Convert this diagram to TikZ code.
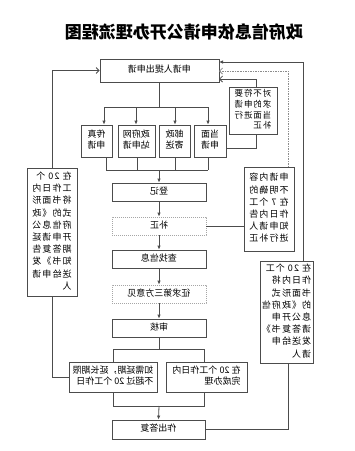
\documentclass[tikz,border=0pt]{standalone}
\usepackage{fontspec}
\setmainfont{Noto Sans CJK SC}
\usepackage{graphicx}
\usetikzlibrary{arrows.meta}
\newcommand{\M}[2][c]{\reflectbox{\begin{tabular}{@{}#1@{}}#2\end{tabular}}}
\tikzset{
 box/.style={draw=black!70, line width=0.8pt, fill=white, inner sep=0pt, font=\fontsize{9}{11}\selectfont},
 dbox/.style={box, draw=black!35, dash pattern=on 1.2pt off 0.8pt},
 tall/.style={box, font=\fontsize{9}{12.2}\selectfont\addfontfeature{LetterSpace=12}},
 ln/.style={draw=black!70, line width=0.8pt},
 arr/.style={ln, -{Latex[length=4pt,width=3.5pt]}},
 oarr/.style={ln, -{Straight Barb[length=3pt,width=6pt]}},
}
\begin{document}
\begin{tikzpicture}[x=1pt,y=-1pt]
\useasboundingbox (0,0) rectangle (355,451);
\fill[white] (0,0) rectangle (355,451);

\node[font=\fontsize{17}{17}\selectfont\bfseries] (title) at (184,34) {\M{政府信息依申请公开办理流程图}};

\node[box, minimum width=119pt, minimum height=23pt] (top) at (159.5,70.5) {\M{申请人提出申请}};

\node[box, minimum width=31pt, minimum height=32pt] (ch1) at (96.5,141) {\M{传真\\申请}};
\node[box, minimum width=37pt, minimum height=32pt] (ch2) at (136.5,141) {\M{政府网\\站申请}};
\node[box, minimum width=31pt, minimum height=32pt] (ch3) at (174.5,141) {\M{邮政\\寄送}};
\node[box, minimum width=32pt, minimum height=32pt] (ch4) at (210,141) {\M{当面\\申请}};

\node[box, minimum width=94pt, minimum height=18pt] (dengji) at (159,192) {\M{登记}};
\node[dbox, minimum width=94pt, minimum height=18pt] (buzheng) at (159,226) {\M{补正}};
\node[box, minimum width=94pt, minimum height=18pt] (chazhao) at (159,259) {\M{查找信息}};
\node[dbox, minimum width=94pt, minimum height=18pt] (zhengqiu) at (159,294) {\M{征求第三方意见}};
\node[box, minimum width=94pt, minimum height=18pt] (shenhe) at (159,328) {\M{审核}};

\node[box, minimum width=88pt, minimum height=30pt] (yanqi) at (113,377) {\M[l]{如需延期，延长期限\\不超过 20 个工作日}};
\node[box, minimum width=81pt, minimum height=30pt] (wancheng) at (206.5,377) {\M[l]{在 20 个工作日内\\完成办理}};
\node[box, minimum width=93pt, minimum height=19pt] (dafu) at (158.5,429.5) {\M{作出答复}};

\node[tall, minimum width=50pt, minimum height=128pt] (leftTall) at (52,232) {\M[l]{在 20 个\\工作日内\\将书面形\\式的《政\\府信息公\\开申请延\\期答复告\\知书》发\\送给申请\\人}};
\node[tall, font=\fontsize{8.5}{10.8}\selectfont\addfontfeature{LetterSpace=10}, minimum width=48pt, minimum height=47pt] (req) at (253,110.5) {\M[l]{对不符要\\求的申请\\当面进行\\补正}};
\node[tall, minimum width=50pt, minimum height=84pt] (unclear) at (269,209) {\M[l]{申请内容\\不明确的\\在 7 个工\\作日内告\\知申请人\\进行补正}};
\node[tall, minimum width=53pt, minimum height=102pt] (rightTall) at (286.5,312) {\M[l]{在 20 个工\\作日内将\\书面形式\\的《政府信\\息公开申\\请答复书》\\发送给申\\请人}};

% top split
\coordinate (s1) at (159.5,107);
\coordinate (b1) at (104,107);
\coordinate (b2) at (136,107);
\coordinate (b3) at (175,107);
\coordinate (b4) at (208,107);
\draw[ln] (top.south) -- (s1);
\draw[ln] (b1) -- (b4);
\draw[arr] (b1) -- (b1 |- ch1.north);
\draw[arr] (b2) -- (b2 |- ch2.north);
\draw[arr] (b3) -- (b3 |- ch3.north);
\draw[arr] (b4) -- (b4 |- ch4.north);

% bottom merge
\coordinate (c1) at (106,170);
\coordinate (c2) at (137,170);
\coordinate (c3) at (175,170);
\coordinate (c4) at (208,170);
\coordinate (s2) at (159,170);
\draw[ln] (c1 |- ch1.south) -- (c1);
\draw[ln] (c2 |- ch2.south) -- (c2);
\draw[ln] (c3 |- ch3.south) -- (c3);
\draw[ln] (c4 |- ch4.south) -- (c4);
\draw[ln] (c1) -- (c4);
\draw[arr] (s2) -- (dengji.north);

% main chain
\draw[arr] (dengji) -- (buzheng);
\draw[arr] (buzheng) -- (chazhao);
\draw[arr] (chazhao) -- (zhengqiu);
\draw[arr] (zhengqiu) -- (shenhe);

% after review
\coordinate (s3) at (159,349);
\coordinate (d1) at (113,349);
\coordinate (d2) at (204,349);
\draw[ln] (shenhe.south) -- (s3);
\draw[ln] (d1) -- (d2);
\draw[ln] (d1) -- (d1 |- yanqi.north);
\draw[ln] (d2) -- (d2 |- wancheng.north);
\coordinate (e1) at (113,406);
\coordinate (e2) at (204,406);
\coordinate (s4) at (159,406);
\draw[ln] (e1 |- yanqi.south) -- (e1) -- (e2) -- (e2 |- wancheng.south);
\draw[arr] (s4) -- (dafu.north);

% left loop
\draw[ln] (yanqi.west) -| (leftTall.south);
\draw[oarr] (leftTall.north) |- (top.west);

% right loops
\coordinate (t1) at (219,62);
\coordinate (t2) at (219,71);
\coordinate (t3) at (219,79);
\coordinate (r1) at (256,148);
\draw[ln] (r1 -| ch4.east) -- (r1) -- (r1 |- req.south);
\draw[oarr] (r1 |- req.north) |- (t3);
\draw[ln] (buzheng.east) -- (buzheng.east -| unclear.west);
\coordinate (u1) at (288,167);
\draw[oarr, draw=black!45, dash pattern=on 1.5pt off 1pt] (u1) |- (t2);
\coordinate (rb) at (288,363);
\draw[ln] (dafu.east) -| (rb);
\coordinate (rtop) at (303,261);
\draw[arr] (rtop) |- (t1);
\end{tikzpicture}
\end{document}
